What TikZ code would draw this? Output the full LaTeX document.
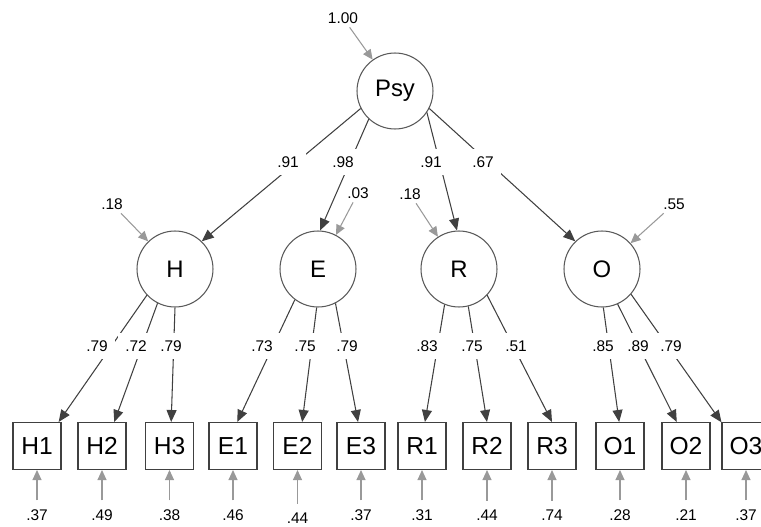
\documentclass[tikz,border=0pt]{standalone}
\usepackage{fontspec}
\setmainfont{Liberation Sans}
\usetikzlibrary{arrows.meta}

\begin{document}
\begin{tikzpicture}[x=0.02cm,y=-0.02cm,
    >={Triangle[length=2.4mm,width=2mm]},
    latent/.style={circle,draw=black!65,line width=0.6pt,minimum size=1.52cm,inner sep=0pt,
        font=\fontsize{13.6}{15}\selectfont},
    manifest/.style={rectangle,draw=black!75,line width=0.6pt,minimum width=0.96cm,
        minimum height=0.94cm,inner sep=0pt,font=\fontsize{14}{15}\selectfont},
    num/.style={inner sep=2pt,font=\fontsize{8.8}{10}\selectfont},
    coef/.style={num,fill=white,inner xsep=4pt,inner ysep=4.5pt},
    load/.style={->,draw=black!75,line width=0.6pt},
    err/.style={->,draw=black!40,line width=0.6pt,>={Triangle[length=2mm,width=1.8mm]}}]
                \useasboundingbox (0,0) rectangle (761,527);
                \clip (0,0) rectangle (761,527);
                % latent factors
                \node[latent] (Psy) at (395,91) {Psy};
                \node[latent] (H) at (175,269) {H};
                \node[latent] (E) at (318,269) {E};
                \node[latent] (R) at (459,269) {R};
                \node[latent] (O) at (602,269) {O};
                % residual variances of the factors
                \node[num] (ePsy) at (343,18) {1.00};
                \node[num] (eH) at (112,204) {.18};
                \node[num] (eE) at (358,193) {.03};
                \node[num] (eR) at (410,194) {.18};
                \node[num] (eO) at (674,204) {.55};
                \foreach \e/\f in {ePsy/Psy,eH/H,eE/E,eR/R,eO/O}
                    \draw[err] (\e) -- (\f);
                % second order loadings
                \foreach \f/\a/\b/\lx/\val in {H/207/46/288/.91,E/227/87/343/.98,
                        R/326/93/431/.91,O/333/134/483/.67}{
                    \draw[load] (Psy.\a) -- (\f.\b);
                    \node[coef] (l\f) at (\lx,162) {\val};
                }
                % items
                \foreach \v/\p/\a/\b/\x/\lx/\val/\ev/\ey in {
                        H1/H/223/48/37/97/.79/.37/515,
                        H2/H/243/63/102/136/.72/.49/515,
                        H3/H/270/86/169.5/171/.79/.38/515,
                        E1/E/233/80/233/262/.73/.46/515,
                        E2/E/268/79/297.5/305/.75/.44/518,
                        E3/E/297/97/361/347/.79/.37/515,
                        R1/R/248/83/422/427/.83/.31/515,
                        R2/R/284/90/487/472/.75/.44/515,
                        R3/R/317/90/552/516/.51/.74/515,
                        O1/O/272/92/620/603/.85/.28/515,
                        O2/O/294/111/686/638/.89/.21/515,
                        O3/O/319/136/746/671/.79/.37/515}{
                    \node[manifest] (\v) at (\x,446) {\v};
                    \node[num] (e\v) at (\x,\ey) {\ev};
                    \draw[load] (\p.\a) -- (\v.\b);
                    \node[coef] (l\v) at (\lx,346) {\val};
                    \draw[err,shorten <=3pt] (e\v) -- (\v);
                }
            \end{tikzpicture}
\end{document}
